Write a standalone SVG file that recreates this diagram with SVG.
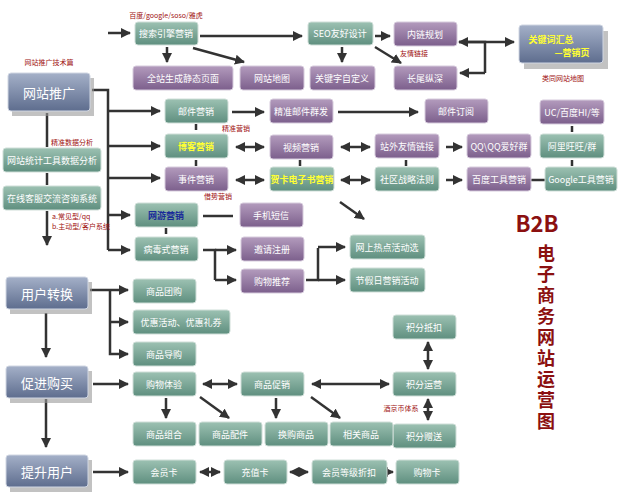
<svg xmlns="http://www.w3.org/2000/svg" width="635" height="500" viewBox="0 0 635 500">
<defs>
<linearGradient id="gG" x1="0" y1="0" x2="0" y2="1"><stop offset="0" stop-color="#9cc1b2"/><stop offset="1" stop-color="#5f8f7f"/></linearGradient>
<linearGradient id="gP" x1="0" y1="0" x2="0" y2="1"><stop offset="0" stop-color="#b39bbd"/><stop offset="1" stop-color="#7c5f8c"/></linearGradient>
<linearGradient id="gB" x1="0" y1="0" x2="0" y2="1"><stop offset="0" stop-color="#a4b0c8"/><stop offset="1" stop-color="#5e6d8e"/></linearGradient>
<marker id="a" viewBox="0 0 10 10" refX="9" refY="5" markerWidth="4" markerHeight="4" orient="auto-start-reverse"><path d="M0,0L10,5L0,10z" fill="#333"/></marker>
<style>
.g{fill:url(#gG);stroke:#cfded8;stroke-width:1}
.p{fill:url(#gP);stroke:#d6cbdc;stroke-width:1}
.b{fill:url(#gB);stroke:#d0d6e2;stroke-width:1}
.sh{fill:#999;opacity:.6}
text{font-family:"Noto Sans CJK SC","Liberation Sans",sans-serif;text-anchor:middle;dominant-baseline:central}
.t{fill:#fff;font-size:9px}
.tb{fill:#fff;font-size:13px}
.y{fill:#ffff33;font-size:9px;font-weight:bold}
.bl{fill:#1a2a9a;font-size:9px;font-weight:bold}
.r{fill:#a01010;font-size:7px}
.l{text-anchor:start}
.v{font-size:18px;font-weight:bold;fill:#8b1010;writing-mode:vertical-rl;text-anchor:start;letter-spacing:3px}
.c line,.c path{stroke:#333;stroke-width:2.5;fill:none}
.c .m{marker-end:url(#a)}
.c .d{marker-end:url(#a);marker-start:url(#a)}
</style>
</defs>
<rect width="635" height="500" fill="#fff"/>

<g class="c">
<path d="M92,90H108V250"/>
<path d="M108,33H130" class="m"/>
<path d="M108,111H160" class="m"/>
<path d="M108,146H160" class="m"/>
<path d="M108,178H160" class="m"/>
<path d="M108,215H130" class="m"/>
<path d="M108,250H130" class="m"/>
<path d="M200,36H302" class="m"/>
<path d="M167,47V62" class="m"/>
<path d="M193,48L244,62" class="m"/>
<path d="M375,36H390" class="m"/>
<path d="M342,47V62" class="m"/>
<path d="M375,47L401,63" class="m"/>
<path d="M459,42H485V73" />
<path d="M485,42H459" class="m"/>
<path d="M485,73H460" class="m"/>
<path d="M485,42H514" class="m"/>
<path d="M232,112H264" class="m"/>
<path d="M338,112H418" class="m"/>
<line x1="196" y1="124" x2="196" y2="130"/>
<line x1="196" y1="160" x2="196" y2="166"/>
<line x1="300" y1="160" x2="300" y2="166"/>
<line x1="406" y1="160" x2="406" y2="166"/>
<line x1="572" y1="126" x2="572" y2="132"/>
<line x1="572" y1="160" x2="572" y2="166"/>
<path d="M236,147H264" class="d"/>
<path d="M236,180H264" class="d"/>
<path d="M341,147H370" class="d"/>
<path d="M341,180H370" class="d"/>
<path d="M446,147H462" class="m"/>
<path d="M446,180H462" class="m"/>
<line x1="531" y1="180" x2="545" y2="180"/>
<path d="M340,202L364,219" class="m"/>
<line x1="203" y1="216" x2="233" y2="216"/>
<line x1="166" y1="228" x2="166" y2="234"/>
<path d="M203,250H215V280"/>
<path d="M215,250H236" class="m"/>
<path d="M215,280H236" class="m"/>
<path d="M306,280H318V248"/>
<path d="M318,247H345" class="m"/>
<path d="M318,280H345" class="m"/>
<line x1="47" y1="113" x2="47" y2="147"/>
<line x1="47" y1="173" x2="47" y2="185"/>
<path d="M47,211V245" class="m"/>
<path d="M46,313V357" class="m"/>
<path d="M46,399V447" class="m"/>
<path d="M90,290H128" class="m"/>
<path d="M110,290V354H128" class="m"/>
<path d="M110,322H128" class="m"/>
<path d="M93,384H128" class="m"/>
<path d="M203,384H237" class="d"/>
<path d="M312,384H389" class="d"/>
<path d="M428,342V369" class="d"/>
<path d="M428,399V420" class="d"/>
<path d="M166,398V418" class="m"/>
<path d="M200,397L229,418" class="m"/>
<path d="M276,398V418" class="m"/>
<path d="M311,397L340,418" class="m"/>
<path d="M93,472H128" class="m"/>
<path d="M200,472H220" class="d"/>
<path d="M290,472H308" class="d"/>
<path d="M379,472H393" class="d"/>
</g>

<g id="n-wztg"><rect class="sh" x="12" y="78" width="82" height="38"/><rect class="b" x="8" y="73" width="82" height="38" rx="3"/><text class="tb" x="49" y="92">网站推广</text></g>
<g id="n-tj"><rect class="g" x="3" y="148" width="98" height="24" rx="3"/><text class="t" x="52" y="160">网站统计工具数据分析</text></g>
<g id="n-kf"><rect class="g" x="3" y="186" width="98" height="24" rx="3"/><text class="t" x="52" y="198">在线客服交流咨询系统</text></g>
<g id="n-yhzh"><rect class="sh" x="10" y="282" width="82" height="32"/><rect class="b" x="6" y="277" width="82" height="32" rx="3"/><text class="tb" x="47" y="293">用户转换</text></g>
<g id="n-cjgm"><rect class="sh" x="10" y="371" width="82" height="32"/><rect class="b" x="6" y="366" width="82" height="32" rx="3"/><text class="tb" x="47" y="382">促进购买</text></g>
<g id="n-tsyh"><rect class="sh" x="10" y="460" width="82" height="32"/><rect class="b" x="6" y="455" width="82" height="32" rx="3"/><text class="tb" x="47" y="471">提升用户</text></g>

<g id="n-ss"><rect class="g" x="135" y="22" width="63" height="23" rx="3"/><text class="t" x="166" y="33">搜索引擎营销</text></g>
<g id="n-qz"><rect class="p" x="133" y="66" width="100" height="24" rx="3"/><text class="t" x="183" y="78">全站生成静态页面</text></g>
<g id="n-dt"><rect class="p" x="240" y="66" width="64" height="24" rx="3"/><text class="t" x="272" y="78">网站地图</text></g>
<g id="n-gjz"><rect class="p" x="310" y="66" width="65" height="24" rx="3"/><text class="t" x="342" y="78">关键字自定义</text></g>
<g id="n-seo"><rect class="g" x="308" y="22" width="65" height="23" rx="3"/><text class="t" x="340" y="33">SEO友好设计</text></g>
<g id="n-nl"><rect class="p" x="394" y="22" width="63" height="24" rx="3"/><text class="t" x="425" y="34">内链规划</text></g>
<g id="n-cw"><rect class="p" x="394" y="66" width="63" height="24" rx="3"/><text class="t" x="425" y="78">长尾纵深</text></g>
<g id="n-gjc"><rect class="sh" x="524" y="31" width="84" height="38"/><rect class="b" x="519" y="25" width="84" height="38" rx="3"/><text class="y" x="551" y="39">关键词汇总</text><text class="y" x="572" y="52">—营销页</text></g>

<g id="n-yj"><rect class="g" x="165" y="99" width="63" height="24" rx="3"/><text class="t" x="196" y="111">邮件营销</text></g>
<g id="n-jz"><rect class="p" x="270" y="99" width="63" height="24" rx="3"/><text class="t" x="301" y="111">精准邮件群发</text></g>
<g id="n-dy"><rect class="p" x="425" y="99" width="63" height="24" rx="3"/><text class="t" x="456" y="111">邮件订阅</text></g>
<g id="n-uc"><rect class="p" x="540" y="100" width="64" height="24" rx="3"/><text class="t" x="572" y="112">UC/百度HI/等</text></g>
<g id="n-bk"><rect class="g" x="165" y="134" width="63" height="24" rx="3"/><text class="y" x="196" y="146">博客营销</text></g>
<g id="n-sp"><rect class="p" x="270" y="135" width="63" height="24" rx="3"/><text class="t" x="301" y="147">视频营销</text></g>
<g id="n-zw"><rect class="p" x="375" y="134" width="64" height="24" rx="3"/><text class="t" x="407" y="146">站外友情链接</text></g>
<g id="n-qq"><rect class="p" x="467" y="134" width="64" height="24" rx="3"/><text class="t" x="499" y="146">QQ\QQ爱好群</text></g>
<g id="n-ww"><rect class="g" x="540" y="134" width="64" height="24" rx="3"/><text class="t" x="572" y="146">阿里旺旺/群</text></g>
<g id="n-sj"><rect class="p" x="165" y="167" width="63" height="24" rx="3"/><text class="t" x="196" y="179">事件营销</text></g>
<g id="n-hk"><rect class="g" x="270" y="167" width="64" height="24" rx="3"/><text class="y" x="302" y="179">贺卡电子书营销</text></g>
<g id="n-sq"><rect class="g" x="375" y="167" width="64" height="24" rx="3"/><text class="t" x="407" y="179">社区战略法则</text></g>
<g id="n-bd"><rect class="p" x="467" y="167" width="64" height="24" rx="3"/><text class="t" x="499" y="179">百度工具营销</text></g>
<g id="n-gg"><rect class="g" x="545" y="167" width="72" height="24" rx="3"/><text class="t" x="581" y="179">Google工具营销</text></g>

<g id="n-wy"><rect class="g" x="135" y="203" width="63" height="24" rx="3"/><text class="bl" x="166" y="215">网游营销</text></g>
<g id="n-dx"><rect class="p" x="240" y="203" width="63" height="24" rx="3"/><text class="t" x="271" y="215">手机短信</text></g>
<g id="n-bd2"><rect class="g" x="135" y="237" width="63" height="24" rx="3"/><text class="t" x="166" y="249">病毒式营销</text></g>
<g id="n-yq"><rect class="p" x="241" y="237" width="63" height="24" rx="3"/><text class="t" x="272" y="249">邀请注册</text></g>
<g id="n-gw"><rect class="p" x="241" y="269" width="63" height="24" rx="3"/><text class="t" x="272" y="281">购物推荐</text></g>
<g id="n-rd"><rect class="g" x="350" y="235" width="75" height="24" rx="3"/><text class="t" x="387" y="247">网上热点活动选</text></g>
<g id="n-jr"><rect class="g" x="350" y="268" width="75" height="24" rx="3"/><text class="t" x="387" y="280">节假日营销活动</text></g>

<g id="n-tg"><rect class="g" x="133" y="279" width="63" height="24" rx="3"/><text class="t" x="164" y="291">商品团购</text></g>
<g id="n-yh"><rect class="g" x="133" y="310" width="97" height="24" rx="3"/><text class="t" x="181" y="322">优惠活动、优惠礼券</text></g>
<g id="n-dg"><rect class="g" x="133" y="342" width="63" height="24" rx="3"/><text class="t" x="164" y="354">商品导购</text></g>
<g id="n-ty"><rect class="g" x="133" y="372" width="63" height="24" rx="3"/><text class="t" x="164" y="384">购物体验</text></g>
<g id="n-cx"><rect class="g" x="241" y="372" width="63" height="24" rx="3"/><text class="t" x="272" y="384">商品促销</text></g>
<g id="n-jfyy"><rect class="g" x="393" y="372" width="63" height="24" rx="3"/><text class="t" x="424" y="384">积分运营</text></g>
<g id="n-jfdk"><rect class="g" x="393" y="315" width="63" height="24" rx="3"/><text class="t" x="424" y="327">积分抵扣</text></g>
<g id="n-jfzs"><rect class="g" x="393" y="424" width="63" height="24" rx="3"/><text class="t" x="424" y="436">积分赠送</text></g>
<g id="n-zh"><rect class="g" x="133" y="422" width="63" height="24" rx="3"/><text class="t" x="164" y="434">商品组合</text></g>
<g id="n-pj"><rect class="g" x="199" y="422" width="63" height="24" rx="3"/><text class="t" x="230" y="434">商品配件</text></g>
<g id="n-hg"><rect class="g" x="265" y="422" width="63" height="24" rx="3"/><text class="t" x="296" y="434">换购商品</text></g>
<g id="n-xg"><rect class="g" x="330" y="422" width="63" height="24" rx="3"/><text class="t" x="361" y="434">相关商品</text></g>
<g id="n-hyk"><rect class="g" x="133" y="460" width="63" height="24" rx="3"/><text class="t" x="164" y="472">会员卡</text></g>
<g id="n-czk"><rect class="g" x="224" y="460" width="63" height="24" rx="3"/><text class="t" x="255" y="472">充值卡</text></g>
<g id="n-dj"><rect class="g" x="312" y="460" width="75" height="24" rx="3"/><text class="t" x="349" y="472">会员等级折扣</text></g>
<g id="n-gwk"><rect class="g" x="396" y="460" width="63" height="24" rx="3"/><text class="t" x="427" y="472">购物卡</text></g>

<g id="labels">
<text class="r" x="166" y="15">百度/google/soso/雅虎</text>
<text class="r" x="49" y="62">网站推广技术篇</text>
<text class="r" x="72" y="142">精准数据分析</text>
<text class="r l" x="52" y="216">a.常见型/qq</text>
<text class="r l" x="52" y="226">b.主动型/客户系统</text>
<text class="r" x="236" y="128">精准营销</text>
<text class="r" x="218" y="196">借势营销</text>
<text class="r" x="414" y="53">友情链接</text>
<text class="r" x="563" y="78">类同网站地图</text>
<text class="r" x="401" y="408">酒京币体系</text>
<text x="537" y="222" style="font-size:22px;font-weight:bold;fill:#8b1010">B2B</text>
<text class="v" x="546" y="244">电子商务网站运营图</text>
</g>
</svg>
